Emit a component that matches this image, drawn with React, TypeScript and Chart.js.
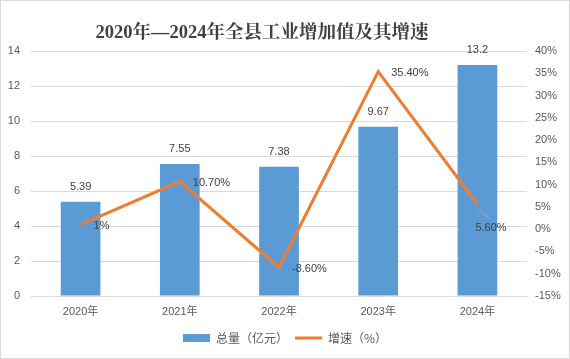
import { useEffect, useRef } from 'react';
import { Chart, registerables } from 'chart.js';

Chart.register(...registerables);

const titleText = '2020年—2024年全县工业增加值及其增速';
const categories = ['2020年', '2021年', '2022年', '2023年', '2024年'];
const totals = [5.39, 7.55, 7.38, 9.67, 13.2];
const totalLabels = ['5.39', '7.55', '7.38', '9.67', '13.2'];
const growth = [1, 10.7, -8.6, 35.4, 5.6];
const growthLabels = ['1%', '10.70%', '-8.60%', '35.40%', '5.60%'];
const seriesNames = ['总量（亿元）', '增速（%）'];

const FONT = '"Liberation Sans", "Noto Sans CJK SC", sans-serif';
const CJK = '"Noto Sans CJK SC", "Liberation Sans", sans-serif';

const deco = {
  id: 'deco',
  beforeDraw(chart: any) {
    const { ctx, width, height } = chart;
    ctx.save();
    ctx.fillStyle = '#ffffff';
    ctx.fillRect(0, 0, width, height);
    ctx.strokeStyle = '#d9d9d9';
    ctx.lineWidth = 1;
    ctx.strokeRect(0.5, 0.5, width - 1, height - 1);
    ctx.restore();
  },
  afterDatasetsDraw(chart: any) {
    const { ctx } = chart;
    ctx.save();
    ctx.font = `11px ${FONT}`;
    ctx.fillStyle = '#404040';
    const barMeta = chart.getDatasetMeta(0);
    ctx.textAlign = 'center';
    ctx.textBaseline = 'middle';
    barMeta.data.forEach((el: any, i: number) => {
      ctx.fillText(totalLabels[i], el.x, el.y - 15);
    });
    const lineMeta = chart.getDatasetMeta(1);
    lineMeta.data.forEach((el: any, i: number) => {
      if (i === lineMeta.data.length - 1) {
        ctx.strokeStyle = '#a6a6a6';
        ctx.lineWidth = 1;
        ctx.beginPath();
        ctx.moveTo(el.x + 1, el.y + 5);
        ctx.lineTo(el.x + 13, el.y + 15);
        ctx.stroke();
        ctx.textAlign = 'left';
        ctx.fillText(growthLabels[i], el.x - 2, el.y + 24);
      } else {
        ctx.textAlign = 'left';
        ctx.fillText(growthLabels[i], el.x + 13, el.y + 1);
      }
    });
    ctx.font = `bold 18.5px "Liberation Serif", "Noto Serif CJK SC", "Noto Sans CJK SC", serif`;
    ctx.fillStyle = '#404040';
    ctx.textAlign = 'center';
    ctx.fillText(titleText, chart.width / 2 - 23, 33);
    ctx.restore();
  },
};

export default function App() {
  const ref = useRef<HTMLCanvasElement | null>(null);
  useEffect(() => {
    document.body.style.margin = '0';
    const canvas = ref.current;
    if (!canvas) return;
    const chart = new Chart(canvas, {
      type: 'bar',
      data: {
        labels: categories,
        datasets: [
          {
            type: 'bar',
            label: seriesNames[0],
            data: totals,
            backgroundColor: '#5b9bd5',
            borderWidth: 0,
            barPercentage: 0.4,
            categoryPercentage: 1,
            yAxisID: 'y',
            order: 2,
          } as any,
          {
            type: 'line',
            label: seriesNames[1],
            data: growth,
            borderColor: '#ed7d31',
            backgroundColor: '#ed7d31',
            borderWidth: 3,
            pointRadius: 0,
            pointStyle: 'line',
            tension: 0,
            yAxisID: 'y1',
            order: 1,
          } as any,
        ],
      },
      options: {
        responsive: false,
        animation: false,
        layout: { padding: { top: 51, left: 0, right: 0, bottom: 5 } },
        scales: {
          x: {
            grid: { display: false },
            border: { display: true, color: '#d9d9d9' },
            ticks: { color: '#595959', font: { size: 11, family: FONT }, padding: 1 },
            afterFit: (s: any) => { s.height = 29; },
          },
          y: {
            position: 'left',
            min: 0,
            max: 14,
            grid: { color: '#d9d9d9', drawTicks: false },
            border: { display: false },
            ticks: { stepSize: 2, color: '#595959', font: { size: 11, family: FONT }, padding: 11 },
            afterFit: (s: any) => { s.width = 31; },
          },
          y1: {
            position: 'right',
            min: -15,
            max: 40,
            grid: { display: false, drawTicks: false },
            border: { display: false },
            ticks: {
              stepSize: 5,
              color: '#595959',
              font: { size: 11, family: FONT },
              padding: 8,
              callback: (v: any) => `${v}%`,
            },
            afterFit: (s: any) => { s.width = 43; },
          },
        },
        plugins: {
          title: { display: false },
          tooltip: { enabled: false },
          legend: {
            position: 'bottom',
            labels: {
              usePointStyle: true,
              pointStyleWidth: 27,
              boxHeight: 8,
              padding: 7,
              color: '#595959',
              font: { size: 12, family: CJK },
              sort: (a: any, b: any) => a.datasetIndex - b.datasetIndex,
              generateLabels: (c: any) =>
                c.data.datasets.map((ds: any, i: number) => ({
                  text: ds.label,
                  fillStyle: i === 0 ? '#5b9bd5' : '#ed7d31',
                  strokeStyle: i === 0 ? '#5b9bd5' : '#ed7d31',
                  lineWidth: i === 0 ? 0 : 3,
                  pointStyle: i === 0 ? 'rect' : 'line',
                  datasetIndex: i,
                  hidden: false,
                  fontColor: '#595959',
                })),
            },
          },
        },
      },
      plugins: [deco],
    });
    return () => chart.destroy();
  }, []);
  return (
    <div style={{ width: 570, height: 359 }}>
      <canvas ref={ref} width={570} height={359} />
    </div>
  );
}
